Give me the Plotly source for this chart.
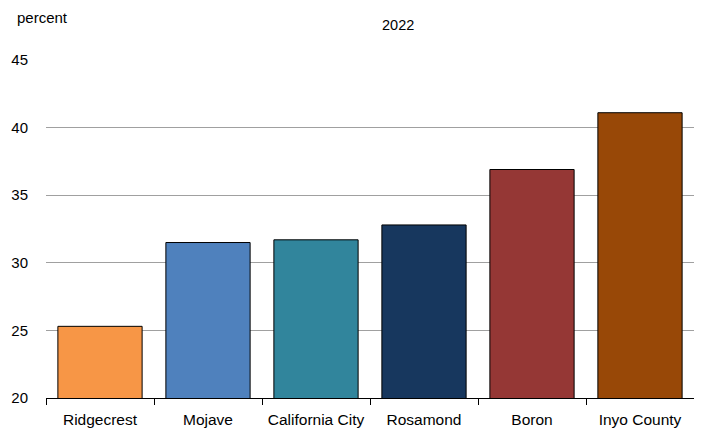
import plotly.graph_objects as go

categories = ["Ridgecrest", "Mojave", "California City", "Rosamond", "Boron", "Inyo County"]
values = [25.3, 31.5, 31.7, 32.8, 36.9, 41.1]
colors = ["#F79646", "#4F81BD", "#31859C", "#17375E", "#953735", "#984807"]
y_ticks = [20, 25, 30, 35, 40, 45]

font = "Liberation Sans, Arial, sans-serif"

fig = go.Figure(go.Bar(
    x=categories, y=values,
    marker=dict(color=colors, line=dict(color="#000000", width=1)),
    width=0.78,
))

# page body has an 8px default margin, so the figure is sized/offset to compensate
fig.update_layout(
    width=694, height=422,
    margin=dict(l=38, r=8, t=52, b=32),
    paper_bgcolor="white", plot_bgcolor="white",
    font=dict(family=font, size=15, color="#000000"),
    showlegend=False,
    annotations=[
        dict(text="percent", xref="paper", yref="paper", x=-0.0478, y=1.127,
             xanchor="left", yanchor="middle", showarrow=False,
             font=dict(family=font, size=15)),
        dict(text="2022", xref="paper", yref="paper", x=0.543, y=1.1036,
             xanchor="center", yanchor="middle", showarrow=False,
             font=dict(family=font, size=14.5)),
    ],
)

fig.update_xaxes(
    showline=True, linecolor="#000000", linewidth=1,
    ticks="outside", tickson="boundaries", ticklen=6, tickcolor="#000000",
    ticklabelstandoff=7, automargin=False,
    showgrid=False, tickfont=dict(size=15.5),
)
fig.update_yaxes(
    range=[20, 45], tickvals=y_ticks, showline=False, automargin=False,
    showgrid=True, gridcolor="#A0A0A0", gridwidth=1,
    ticks="outside", ticklen=14, tickcolor="rgba(0,0,0,0)",
    tickfont=dict(size=15), zeroline=False,
)

fig.write_html("out.html")
